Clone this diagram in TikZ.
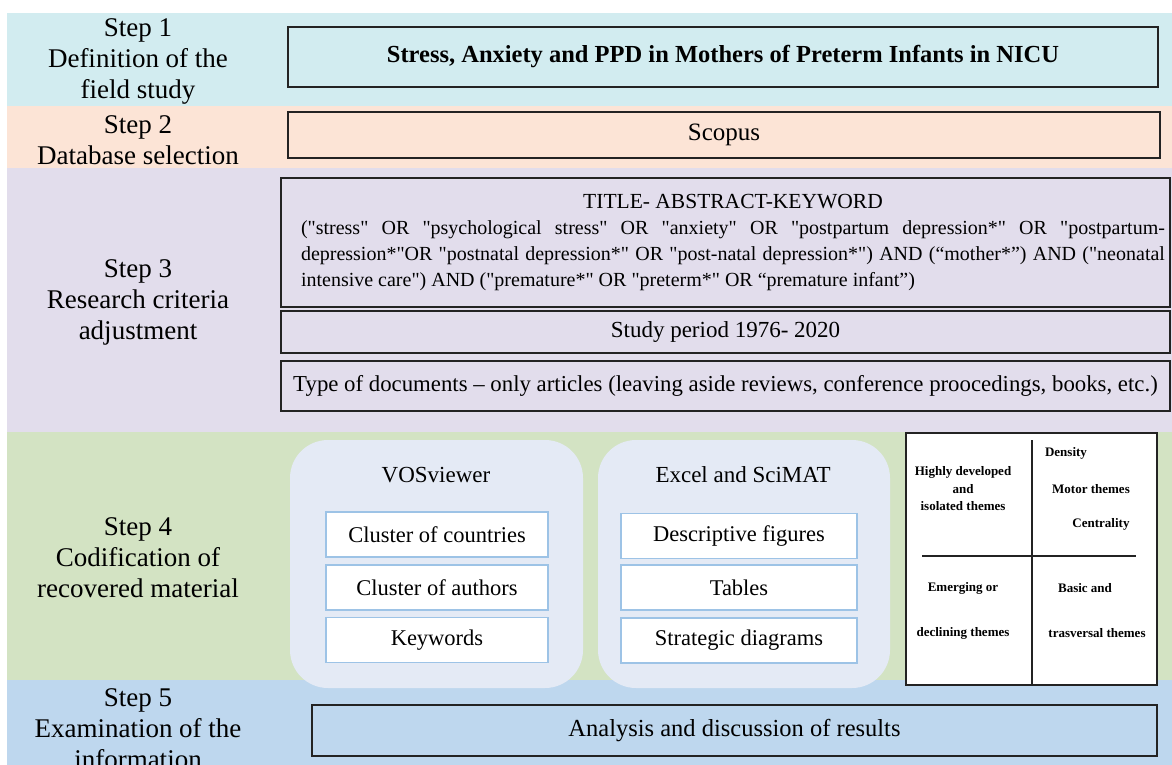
\documentclass[tikz,border=0pt]{standalone}
\usepackage{fontspec}
\setmainfont{Liberation Serif}[Ligatures=TeXOff]
\definecolor{BandCyan}{RGB}{210,236,240}
\definecolor{BandPeach}{RGB}{252,228,214}
\definecolor{BandLilac}{RGB}{226,221,236}
\definecolor{BandGreen}{RGB}{211,227,195}
\definecolor{BandBlue}{RGB}{190,215,238}
\definecolor{PanelBlue}{RGB}{228,234,245}
\definecolor{ItemBorder}{RGB}{157,195,230}
\definecolor{Frame}{RGB}{35,35,35}

\begin{document}
\begin{tikzpicture}[x=1pt, y=-1pt,
  steplabel/.style={align=center, font=\fontsize{27}{31}\selectfont},
  mainbox/.style={draw=Frame, line width=1.8pt, inner sep=0pt, font=\fontsize{23}{27}\selectfont},
  toolpanel/.style={fill=PanelBlue, rounded corners=38pt, inner sep=0pt},
  itembox/.style={draw=ItemBorder, line width=1.3pt, fill=white, inner sep=0pt, minimum height=45pt, font=\fontsize{22.5}{26}\selectfont},
  quadtext/.style={align=center, font=\fontsize{13}{17.5}\selectfont\bfseries}]

\useasboundingbox (0,0) rectangle (1172,765);

% ============================================================
% Background bands, one per step
% ============================================================
\fill[BandCyan]  (7,13)  rectangle (1172,106);
\fill[BandPeach] (7,106) rectangle (1172,168);
\fill[BandLilac] (7,168) rectangle (1172,432);
\fill[BandGreen] (7,432) rectangle (1172,680);
\fill[BandBlue]  (7,680) rectangle (1172,765);

% Step labels on the left
\node[steplabel] (step1) at (138,61)  {Step 1\\Definition of the\\field study};
\node[steplabel] (step2) at (138,140) {Step 2\\Database selection};
\node[steplabel] (step3) at (138,302) {Step 3\\Research criteria\\adjustment};
\node[steplabel] (step4) at (138,558) {Step 4\\Codification of\\recovered material};
\node[steplabel] (step5) at (138,729) {Step 5\\Examination of the\\information};

% ============================================================
% Steps 1 and 2
% ============================================================
\node[mainbox, minimum width=870pt, minimum height=60pt, font=\fontsize{24.5}{28}\selectfont\bfseries]
  (field) at (723,57) {Stress, Anxiety and PPD in Mothers of Preterm Infants in NICU};
\node[mainbox, minimum width=872pt, minimum height=46pt, font=\fontsize{25}{29}\selectfont] (scopus) at (724,135) {Scopus};

% ============================================================
% Step 3: search criteria
% ============================================================
\node[mainbox, minimum width=889pt, minimum height=129pt] (query) at (725.5,242.5) {};
\node[text width=864pt, align=justify, inner sep=0pt, font=\fontsize{20}{26}\selectfont] (querytext) at (733,242.5)
  {{\centering\fontsize{21.5}{26}\selectfont TITLE- ABSTRACT-KEYWORD\par}
   ("stress" OR "psychological stress" OR "anxiety" OR "postpartum depression*" OR "postpartum-\linebreak
   depression*"OR "postnatal depression*" OR "post-natal depression*") AND (“mother*”) AND ("neonatal\linebreak
   intensive care") AND ("premature*" OR "preterm*" OR “premature infant”)};
\node[mainbox, minimum width=889pt, minimum height=42pt] (period) at (725.5,332) {Study period 1976- 2020};
\node[mainbox, minimum width=889pt, minimum height=50pt, font=\fontsize{22.8}{26}\selectfont]
  (doctype) at (725.5,386) {Type of documents – only articles (leaving aside reviews, conference proocedings, books, etc.)};

% ============================================================
% Step 4: tools and outputs
% ============================================================
\node[toolpanel, minimum width=293pt, minimum height=248pt] (vospanel)   at (436.5,564) {};
\node[toolpanel, minimum width=292pt, minimum height=248pt] (excelpanel) at (744,564) {};
\node[font=\fontsize{23}{27}\selectfont] (vostitle)   at (436,475) {VOSviewer};
\node[font=\fontsize{23}{27}\selectfont] (exceltitle) at (743,475) {Excel and SciMAT};

\foreach \name/\y/\txt in {countries/534.5/Cluster of countries, authors/587.5/Cluster of authors, keywords/640/Keywords}{%
  \node[itembox, minimum width=222pt] (\name) at (437,\y) {\txt};
}
\foreach \name/\y/\txt in {figures/536/Descriptive figures, tables/587.5/Tables, diagrams/640.5/Strategic diagrams}{%
  \node[itembox, minimum width=236pt] (\name) at (739,\y) {\txt};
}

% Strategic diagram quadrants
\node[draw=Frame, fill=white, line width=1.6pt, minimum width=251pt, minimum height=252pt] (quad) at (1031.5,559) {};
\draw[Frame, line width=1.2pt] (1032,440) -- (1032,685);
\draw[Frame, line width=1.2pt] (922,556) -- (1136,556);

\node[quadtext] (isolated)    at (963,489)  {Highly developed\\and\\isolated themes};
\node[quadtext] (density)     at (1066,453) {Density};
\node[quadtext] (motor)       at (1091,489) {Motor themes};
\node[quadtext] (centrality)  at (1101,524) {Centrality};
\node[quadtext] (emerging)    at (963,588)  {Emerging or};
\node[quadtext] (declining)   at (963,633)  {declining themes};
\node[quadtext] (basic)       at (1085,588) {Basic and};
\node[quadtext] (transversal) at (1097,633) {trasversal themes};

% ============================================================
% Step 5
% ============================================================
\node[mainbox, minimum width=845pt, minimum height=51pt, font=\fontsize{24.5}{28}\selectfont] (results) at (734.5,730.5)
  {Analysis and discussion of results};

\end{tikzpicture}
\end{document}
